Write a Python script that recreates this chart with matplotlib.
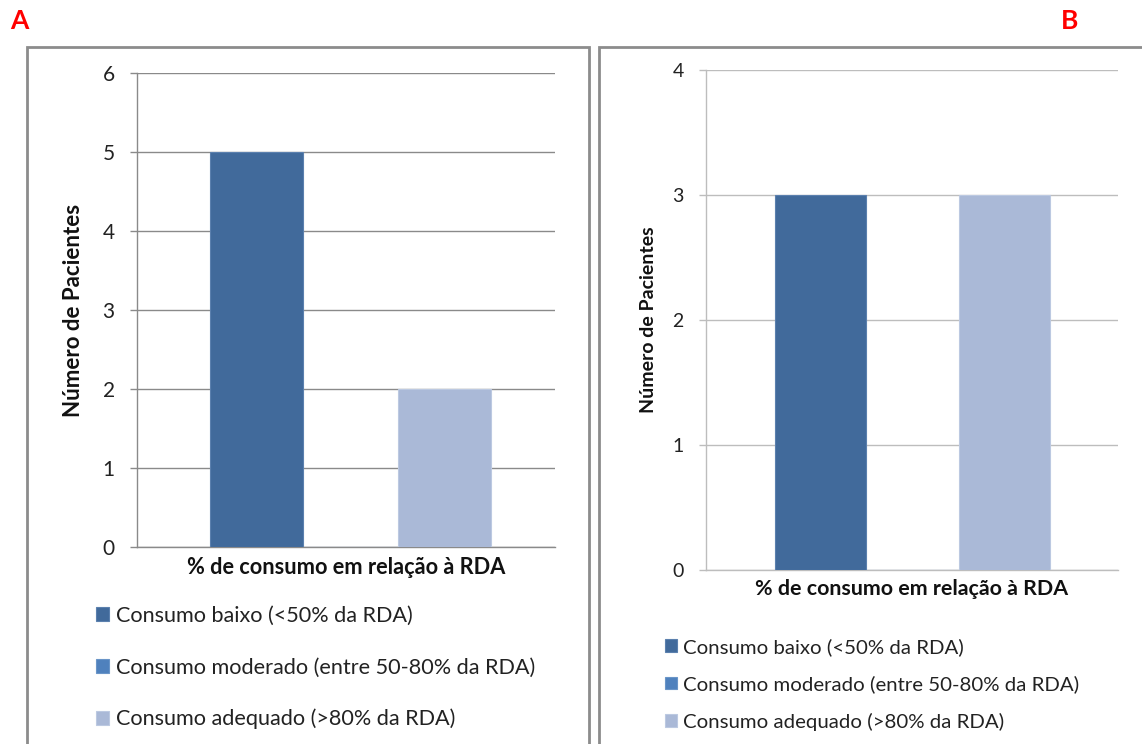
import matplotlib.pyplot as plt
from matplotlib.patches import Rectangle

plt.rcParams['font.family'] = ['Lato', 'DejaVu Sans']

W, H = 1142, 744

series = ['Consumo baixo (<50% da RDA)',
          'Consumo moderado (entre 50-80% da RDA)',
          'Consumo adequado (>80% da RDA)']
colors = ['#416A9B', '#4F81BD', '#AAB9D7']
edges = ['#5B80AE', '#6A95C8', '#BCC9E1']

# number of patients per consumption class, panel A and panel B
counts_a = [5, 0, 2]
counts_b = [3, 0, 3]

xlabel = '% de consumo em relação à RDA'
ylabel = 'Número de Pacientes'


def box(l, t, r, b):
    # pixel box -> figure fraction [left, bottom, width, height]
    return [l / W, 1 - b / H, (r - l) / W, (b - t) / H]


fig = plt.figure(figsize=(W / 100, H / 100), dpi=100)

# panel frames
for l, t, r, b in [(27, 47, 589, 760), (599, 47, 1160, 760)]:
    x0, y0, w, h = box(l, t, r, b)
    fig.patches.append(Rectangle((x0, y0), w, h, transform=fig.transFigure,
                                 fill=False, edgecolor='#8c8c8c', lw=2))

fig.text(10 / W, 1 - 21 / H, 'A', color='red', fontsize=19, fontweight='bold',
         va='center', ha='left')
fig.text(1061 / W, 1 - 21 / H, 'B', color='red', fontsize=19, fontweight='bold',
         va='center', ha='left')


def panel(rect, counts, ymax, xlim, gridc, tick_fs, ylab_fs, xlab_fs, leg_fs,
          ylab_x, xlab_y, leg_xy, leg_sp):
    ax = fig.add_axes(rect)
    xs = [-1, 0, 1]
    for x, v, c, e, s in zip(xs, counts, colors, edges, series):
        ax.bar(x, v, width=0.99, color=c, edgecolor=e, lw=0.8, label=s, zorder=3)
    ax.set_xlim(*xlim)
    ax.set_ylim(0, ymax)
    ax.set_yticks(range(ymax + 1))
    ax.set_xticks([])
    ax.grid(axis='y', color=gridc, lw=1.0, zorder=0)
    for sp in ['top', 'right']:
        ax.spines[sp].set_visible(False)
    ax.spines['left'].set_color(gridc)
    ax.spines['bottom'].set_color(gridc)
    ax.spines['left'].set_linewidth(1.0)
    ax.spines['bottom'].set_linewidth(1.0)
    ax.tick_params(axis='y', length=5, width=1.0, color=gridc, pad=11,
                   labelsize=tick_fs, labelcolor='#222222')
    ax.set_ylabel(ylabel, fontsize=ylab_fs, fontweight='bold', color='#111111')
    ax.yaxis.set_label_coords(ylab_x, 0.5)
    ax.set_xlabel(xlabel, fontsize=xlab_fs, fontweight='bold', color='#111111',
                  va='top')
    ax.xaxis.set_label_coords(0.5, xlab_y)
    fig.legend(handles=ax.containers, labels=series, loc='upper left',
               bbox_to_anchor=leg_xy, frameon=False, fontsize=leg_fs,
               handlelength=0.6, handleheight=0.6, handletextpad=0.3,
               labelspacing=leg_sp, borderpad=0, borderaxespad=0,
               labelcolor='#222222')
    return ax


panel(box(137, 73, 555, 547), counts_a, 6, (-2.27, 2.175), '#8a8a8a',
      15, 16, 15.7, 15.6, -0.127, -0.021, (96 / W, 1 - 606 / H), 1.45)
panel(box(706, 70, 1118, 570), counts_b, 4, (-2.25, 2.23), '#bdbdbd',
      14, 14, 15.4, 14.7, -0.12, -0.018, (665 / W, 1 - 638 / H), 0.95)

fig.savefig('out.png', dpi=100)
